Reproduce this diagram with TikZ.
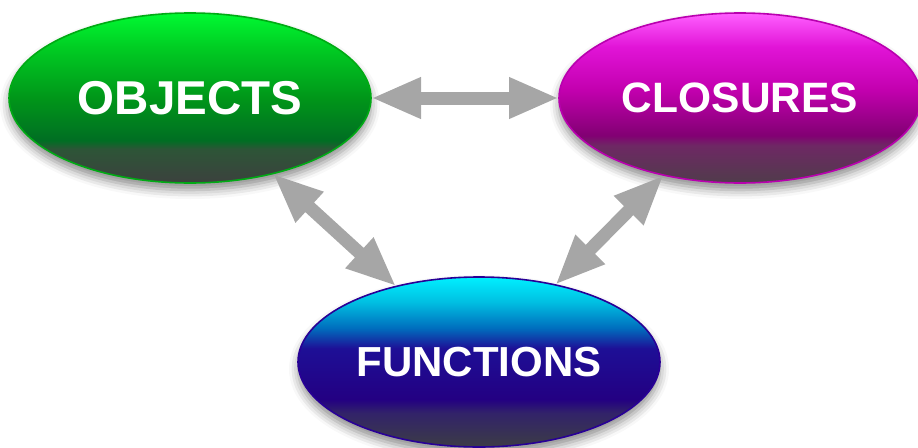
\documentclass[tikz,border=0pt]{standalone}
\usepackage{fontspec}
\setmainfont{Liberation Sans}
\usetikzlibrary{arrows.meta,shapes.geometric,shadows.blur}
\definecolor{objG0}{RGB}{0,250,50}
\definecolor{objG1}{RGB}{0,205,35}
\definecolor{objG2}{RGB}{0,150,25}
\definecolor{objG3}{RGB}{0,110,35}
\definecolor{objG4}{RGB}{45,85,55}
\definecolor{objG5}{RGB}{60,65,62}
\definecolor{cloM0}{RGB}{255,95,255}
\definecolor{cloM1}{RGB}{225,20,215}
\definecolor{cloM2}{RGB}{195,0,175}
\definecolor{cloM3}{RGB}{130,0,115}
\definecolor{cloM4}{RGB}{110,40,100}
\definecolor{cloM5}{RGB}{80,60,75}
\definecolor{funB0}{RGB}{0,240,255}
\definecolor{funB1}{RGB}{0,190,225}
\definecolor{funB2}{RGB}{0,110,190}
\definecolor{funB3}{RGB}{30,15,150}
\definecolor{funB4}{RGB}{35,0,130}
\definecolor{funB5}{RGB}{50,35,105}
\definecolor{funB6}{RGB}{60,60,70}
\definecolor{objEdge}{RGB}{0,170,20}
\definecolor{cloEdge}{RGB}{185,0,175}
\definecolor{funEdge}{RGB}{40,0,150}
\definecolor{arrowGray}{RGB}{166,166,166}
\pgfdeclareverticalshading{objshade}{100bp}{color(0bp)=(objG5); color(25bp)=(objG5); color(35bp)=(objG4); color(37.5bp)=(objG3); color(50bp)=(objG2); color(65bp)=(objG1); color(75bp)=(objG0); color(100bp)=(objG0)}
\pgfdeclareverticalshading{closhade}{100bp}{color(0bp)=(cloM5); color(25bp)=(cloM5); color(36bp)=(cloM4); color(39bp)=(cloM3); color(52.5bp)=(cloM2); color(65bp)=(cloM1); color(75bp)=(cloM0); color(100bp)=(cloM0)}
\pgfdeclareverticalshading{funshade}{100bp}{color(0bp)=(funB6); color(25bp)=(funB6); color(35bp)=(funB5); color(39bp)=(funB4); color(54bp)=(funB3); color(60bp)=(funB2); color(67.5bp)=(funB1); color(75bp)=(funB0); color(100bp)=(funB0)}
\tikzset{
  bubble/.style={ellipse, inner sep=0pt, outer sep=0pt, minimum width=362pt, minimum height=170pt,
    line width=1.6pt, text=white, font=\bfseries,
    blur shadow={shadow xshift=0pt, shadow yshift=-7pt, shadow blur radius=9pt, shadow opacity=45}},
  fatarrow/.style={draw=arrowGray, line width=13pt,
    {Triangle[width=38pt,length=50pt]}-{Triangle[width=38pt,length=50pt]}}
}
\begin{document}
\begin{tikzpicture}[x=1pt,y=-1pt]
\useasboundingbox (0,0) rectangle (918,447);
\node[bubble, draw=objEdge, shading=objshade] (obj) at (190,98) {\fontsize{47.5}{47.5}\selectfont OBJECTS};
\node[bubble, draw=cloEdge, shading=closhade] (clo) at (740,98) {\fontsize{42.5}{42.5}\selectfont CLOSURES};
\node[bubble, draw=funEdge, shading=funshade] (fun) at (479,362) {\fontsize{42}{42}\selectfont FUNCTIONS};
\draw[fatarrow] (obj) -- (clo);
\draw[fatarrow] (obj) -- (fun);
\draw[fatarrow] (clo) -- (fun);
\end{tikzpicture}
\end{document}
